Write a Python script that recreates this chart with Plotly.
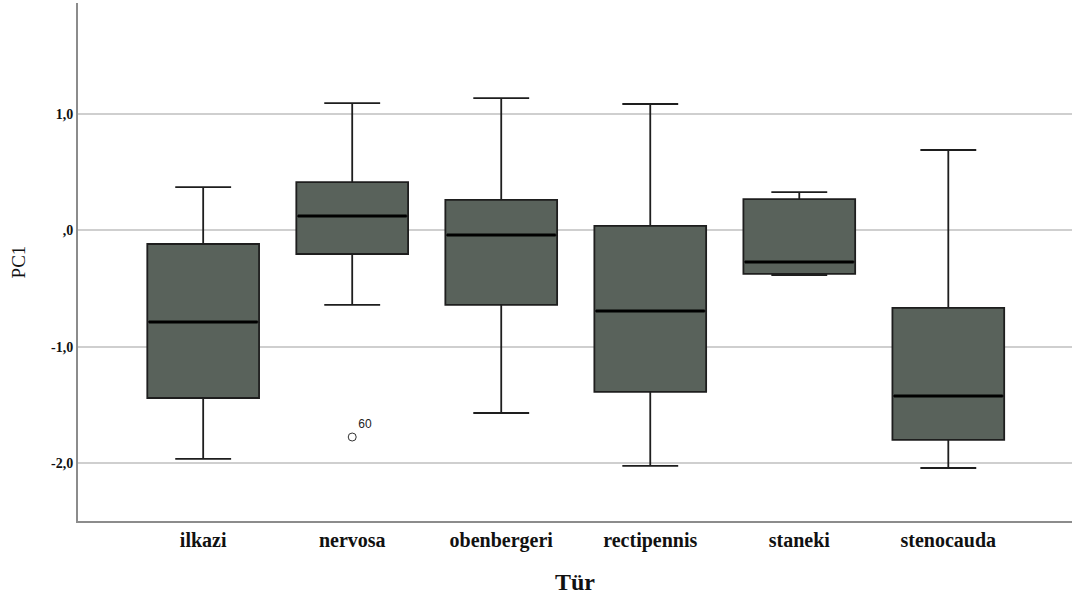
import plotly.graph_objects as go

categories = ["ilkazi", "nervosa", "obenbergeri", "rectipennis", "staneki", "stenocauda"]
upper_whisker = [0.373, 1.094, 1.137, 1.086, 0.330, 0.691]
q3_values = [-0.116, 0.416, 0.262, 0.039, 0.270, -0.665]
median_values = [-0.785, 0.124, -0.039, -0.691, -0.270, -1.421]
q1_values = [-1.438, -0.202, -0.639, -1.386, -0.373, -1.798]
lower_whisker = [-1.961, -0.639, -1.567, -2.021, -0.382, -2.039]

outlier_cat = ["nervosa"]
outlier_val = [-1.773]
outlier_label = ["60"]

tick_vals = [1.0, 0.0, -1.0, -2.0]
tick_text = ["1,0", ",0", "-1,0", "-2,0"]

fig = go.Figure()
fig.add_trace(go.Box(
    x=categories, q1=q1_values, median=median_values, q3=q3_values,
    lowerfence=lower_whisker, upperfence=upper_whisker,
    fillcolor="#59625b", line=dict(color="#1e1e1e", width=1.8),
    width=0.75, whiskerwidth=0.5, boxpoints=False, showlegend=False,
    hoverinfo="skip",
))
fig.add_trace(go.Box(
    x=categories, q1=median_values, median=median_values, q3=median_values,
    lowerfence=median_values, upperfence=median_values,
    fillcolor="rgba(0,0,0,0)", line=dict(color="#000000", width=3),
    width=0.73, whiskerwidth=0, boxpoints=False, showlegend=False,
    hoverinfo="skip",
))
fig.add_trace(go.Scatter(
    x=outlier_cat, y=outlier_val, mode="markers+text",
    text=outlier_label, textposition="top right",
    textfont=dict(family="Liberation Sans, Arial", size=12, color="#222222"),
    marker=dict(symbol="circle-open", size=8, color="#333333", line=dict(width=1)),
    showlegend=False, hoverinfo="skip",
))

fig.update_layout(
    width=1074, height=603,
    margin=dict(l=78, r=2, t=3, b=82),
    paper_bgcolor="white", plot_bgcolor="white",
    font=dict(family="Liberation Serif, Times New Roman, serif", color="#111111"),
    boxmode="overlay",
    xaxis=dict(
        type="category", categoryorder="array", categoryarray=categories,
        range=[-0.84, 5.83],
        showline=True, linecolor="#8c8c8c", linewidth=2,
        showgrid=False, ticks="",
        zeroline=False,
        tickfont=dict(family="Liberation Serif, serif", size=20, color="#111111", weight="bold"),
        title=dict(text="<b>Tür</b>", font=dict(family="Liberation Serif, serif", size=24, color="#111111"), standoff=22),
    ),
    yaxis=dict(
        range=[-2.494, 1.953],
        tickvals=tick_vals, ticktext=tick_text,
        showline=True, linecolor="#8c8c8c", linewidth=2,
        showgrid=True, gridcolor="#cfcfcf", gridwidth=1.5,
        zeroline=False, ticks="",
        tickfont=dict(family="Liberation Serif, serif", size=14, color="#111111", weight="bold"),
        title=dict(text="PC1", font=dict(family="Liberation Serif, serif", size=19, color="#111111"), standoff=20),
    ),
)

fig.write_html("out.html")
